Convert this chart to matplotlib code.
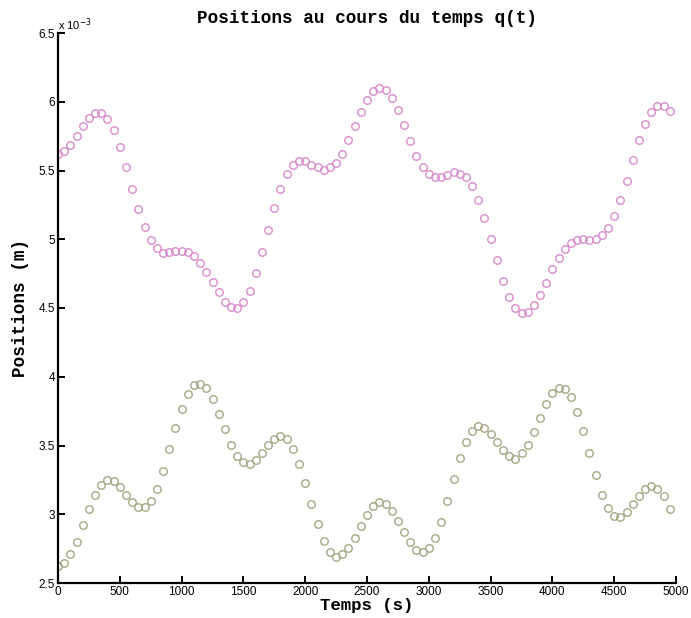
import numpy as np
import matplotlib
matplotlib.use("Agg")
import matplotlib.pyplot as plt
from matplotlib.ticker import FuncFormatter

# time (s)
t = np.arange(0, 5000, 50)

# positions (x 1e-3 m)
q1 = [5.623, 5.644, 5.683, 5.752, 5.822, 5.882, 5.921, 5.921, 5.877, 5.796,
      5.671, 5.526, 5.368, 5.221, 5.091, 4.995, 4.940, 4.901, 4.904, 4.911,
      4.913, 4.904, 4.875, 4.829, 4.764, 4.690, 4.613, 4.546, 4.510, 4.502,
      4.546, 4.627, 4.755, 4.906, 5.065,
      5.224, 5.365, 5.471, 5.541, 5.567, 5.567, 5.541, 5.524, 5.505, 5.524,
      5.555, 5.623, 5.719, 5.822, 5.928, 6.014, 6.077, 6.099, 6.084, 6.026,
      5.940, 5.829, 5.712, 5.608, 5.526, 5.474, 5.452, 5.452, 5.466, 5.486,
      5.478, 5.450, 5.387, 5.284,
      5.151, 5.000, 4.846, 4.697, 4.582, 4.498, 4.464, 4.469, 4.519, 4.594,
      4.685, 4.781, 4.863, 4.930, 4.974, 4.995, 5.000, 4.998, 5.005, 5.029,
      5.084, 5.168, 5.284, 5.423, 5.575, 5.721, 5.837, 5.925, 5.969, 5.969,
      5.933]

q2 = [2.621, 2.643, 2.709, 2.801, 2.920, 3.039, 3.141, 3.211, 3.248, 3.245,
      3.199, 3.141, 3.087, 3.051, 3.051, 3.095, 3.187, 3.318, 3.471, 3.624,
      3.769, 3.874, 3.937, 3.949, 3.917, 3.835, 3.731, 3.617, 3.505, 3.422,
      3.381, 3.364, 3.393, 3.445, 3.504,
      3.549, 3.570, 3.549, 3.476, 3.367, 3.226, 3.073, 2.930, 2.808, 2.723,
      2.689, 2.709, 2.755, 2.830, 2.917, 2.998, 3.061, 3.090, 3.078, 3.027,
      2.954, 2.869, 2.796, 2.740, 2.728, 2.755, 2.830, 2.947, 3.095, 3.255,
      3.408, 3.529, 3.604, 3.645,
      3.624, 3.587, 3.522, 3.466, 3.422, 3.405, 3.447, 3.505, 3.600, 3.701,
      3.801, 3.879, 3.920, 3.913, 3.850, 3.743, 3.604, 3.444, 3.282, 3.143,
      3.049, 2.990, 2.981, 3.019, 3.073, 3.136, 3.187, 3.209, 3.187, 3.131,
      3.039]

xticks = [0, 500, 1000, 1500, 2000, 2500, 3000, 3500, 4000, 4500, 5000]
yticks = [2.5, 3, 3.5, 4, 4.5, 5, 5.5, 6, 6.5]

fig = plt.figure(figsize=(6.91, 6.18), dpi=100)
ax = fig.add_axes([58/691, 1-583/618, (676-58)/691, (583-33)/618])

ax.plot(t, q1, linestyle='none', marker='o', markersize=5.4, markerfacecolor='none',
        markeredgecolor='#d98bcd', markeredgewidth=1.0)
ax.plot(t, q2, linestyle='none', marker='o', markersize=5.4, markerfacecolor='none',
        markeredgecolor='#a6a686', markeredgewidth=1.0)

ax.set_xlim(0, 5000)
ax.set_ylim(2.5, 6.5)
ax.set_xticks(xticks)
ax.set_yticks(yticks)
ax.yaxis.set_major_formatter(FuncFormatter(lambda v, p: ('%g' % v)))
for s in ['top', 'right']:
    ax.spines[s].set_visible(False)
for s in ['left', 'bottom']:
    ax.spines[s].set_linewidth(1.6)
ax.tick_params(direction='in', length=5, width=1.4, labelsize=8.5, pad=2)
for lab in ax.get_xticklabels() + ax.get_yticklabels():
    lab.set_family('Liberation Sans')

ax.text(0.0, 1.0, r'x 10$^{-3}$', transform=ax.transAxes, fontsize=8,
        family='Liberation Sans', ha='left', va='bottom')

mono = 'Liberation Mono'
ax.set_title('Positions au cours du temps q(t)', family=mono, fontweight='bold',
             fontsize=12.8, pad=7)
ax.set_xlabel('Temps (s)', family=mono, fontweight='bold', fontsize=12.5, labelpad=0)
ax.set_ylabel('Positions (m)', family=mono, fontweight='bold', fontsize=12.8, labelpad=7)

fig.savefig('out.png', dpi=100)
